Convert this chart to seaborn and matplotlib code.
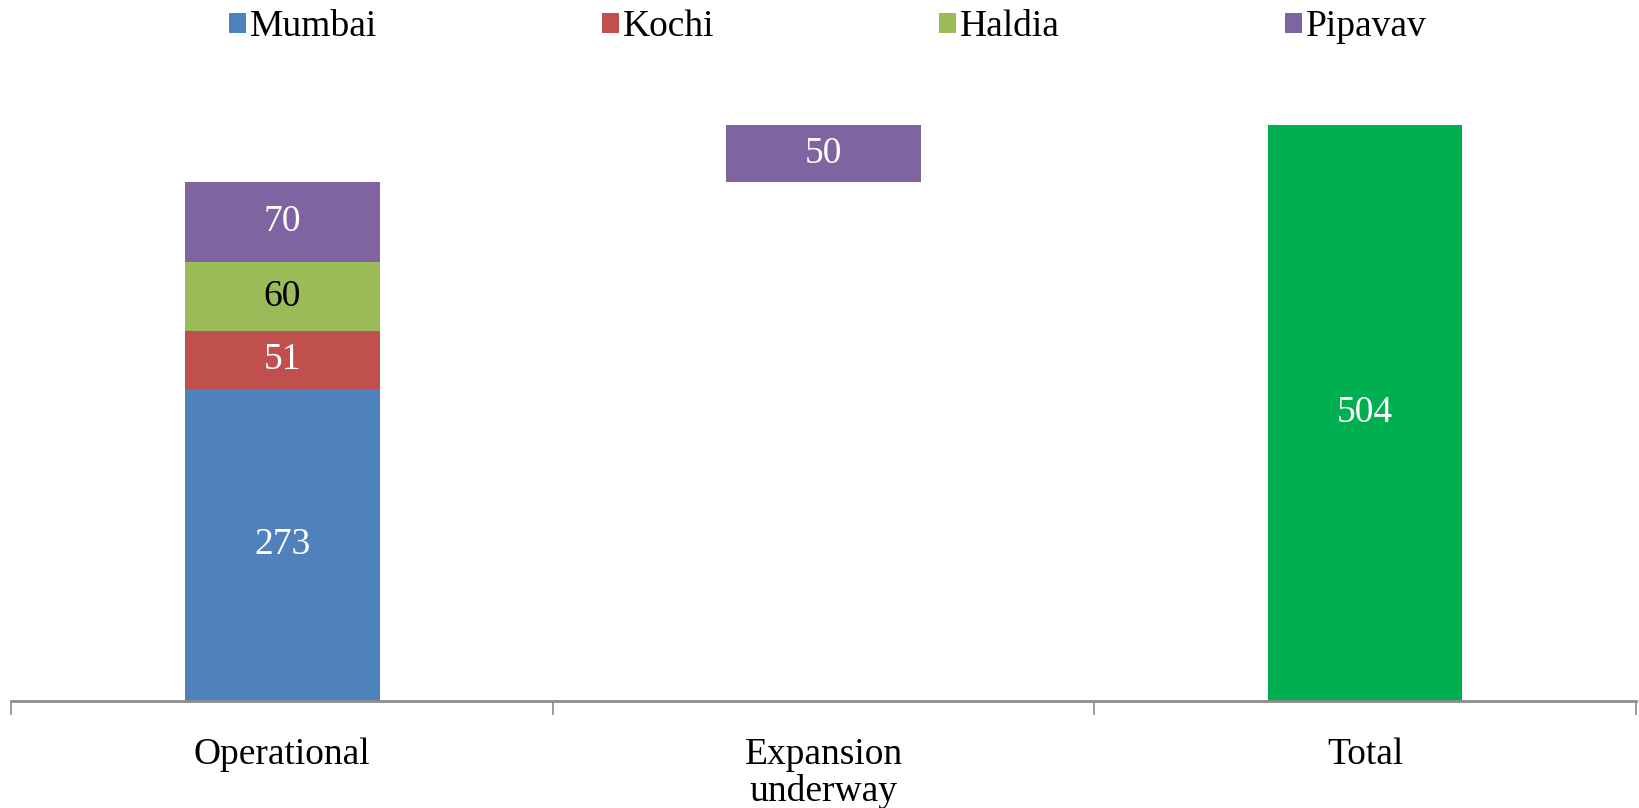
import numpy as np
import pandas as pd
import seaborn as sns
import matplotlib.pyplot as plt
from matplotlib.ticker import FixedLocator

sns.set_style("white")
plt.rcParams['font.family'] = ['Liberation Serif', 'DejaVu Serif']
plt.rcParams['text.color'] = 'black'
plt.rcParams['xtick.color'] = 'black'

categories = ["Operational", "Expansion\nunderway", "Total"]
series = ["Mumbai", "Kochi", "Haldia", "Pipavav"]
mumbai = [273, 0, 0]
kochi = [51, 0, 0]
haldia = [60, 0, 0]
pipavav = [70, 50, 0]
total = [0, 0, 504]

colors = {"Mumbai": "#4F81BD", "Kochi": "#C0504D", "Haldia": "#9BBB59",
          "Pipavav": "#8064A2", "Total": "#00B050"}
label_colors = {"Mumbai": "white", "Kochi": "white", "Haldia": "black",
                "Pipavav": "white", "Total": "white"}

vals = {"Mumbai": mumbai, "Kochi": kochi, "Haldia": haldia, "Pipavav": pipavav}
# expansion bar floats on top of the operational total
base = np.array([0, sum(v[0] for v in vals.values()), 0], dtype=float)

fig = plt.figure(figsize=(16.39, 8.08), dpi=100)
ax = fig.add_axes([0.007, 0.1324, 0.991, 0.7921])

for name in series + ["Total"]:
    y = vals[name] if name in vals else total
    df = pd.DataFrame({"cat": categories, "val": y})
    sns.barplot(data=df, x="cat", y="val", order=categories, color=colors[name],
                width=0.36, bottom=base.copy(), ax=ax, label=name if name != "Total" else None,
                saturation=1, linewidth=0)
    cont = ax.containers[-1]
    labs = [str(v) if v else "" for v in y]
    ax.bar_label(cont, labels=labs, label_type="center", fontsize=27,
                 color=label_colors[name])
    base = base + np.array(y)

handles, labels = ax.get_legend_handles_labels()
if ax.get_legend() is not None:
    ax.get_legend().remove()

ax.set_xlim(-0.5, 2.5)
ax.set_ylim(0, 560)
ax.set_xlabel("")
ax.set_ylabel("")
ax.set_yticks([])
for s in ["top", "right", "left"]:
    ax.spines[s].set_visible(False)
ax.spines["bottom"].set_color("#8c8c8c")
ax.spines["bottom"].set_linewidth(2)
ax.xaxis.set_minor_locator(FixedLocator([-0.5, 0.5, 1.5, 2.5]))
ax.tick_params(axis="x", which="major", length=0, pad=26, labelsize=27, labelcolor="black")
ax.tick_params(axis="x", which="minor", length=10, width=1.2, color="#8c8c8c", direction="out",
               bottom=True)
for t in ax.get_xticklabels():
    t.set_linespacing(1.1)

leg = fig.legend(handles, labels, loc="upper center", bbox_to_anchor=(0.505, 1.03), ncol=4,
                 frameon=False, fontsize=27, handlelength=0.45, handleheight=0.45,
                 handletextpad=0.1, columnspacing=6.0, labelcolor="black")
for h in leg.legend_handles:
    h.set_linewidth(0)

fig.savefig("out.png", dpi=100)
